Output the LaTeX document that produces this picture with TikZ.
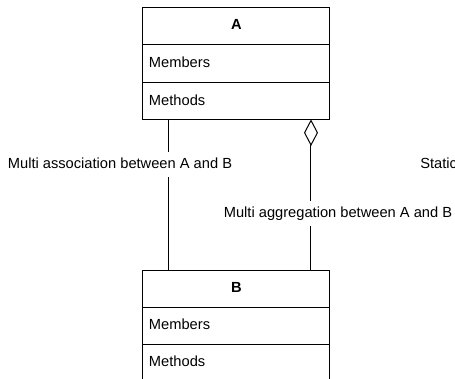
\documentclass[tikz,border=0pt]{standalone}
\usepackage{fontspec}
\setmainfont{Liberation Sans}
\usetikzlibrary{positioning,arrows.meta}

\tikzset{
  px/.style={x=0.75pt,y=-0.75pt},
  compart/.style={draw=black, line width=0.75pt, rectangle, inner xsep=4.5pt,
    inner ysep=0pt, outer sep=0pt, text width=131.25pt, font=\fontsize{11}{13}\selectfont,
    text height=8pt, text depth=2pt},
  classhead/.style={compart, align=center, font=\fontsize{11}{13}\selectfont\bfseries},
  classbody/.style={compart, align=left},
  relation/.style={draw=black, line width=0.75pt},
  rellabel/.style={fill=white, inner xsep=0pt, inner ysep=0pt, minimum height=18.75pt,
    font=\fontsize{11}{13}\selectfont, text height=8pt, text depth=2pt},
}

\begin{document}
\begin{tikzpicture}[px]
  \useasboundingbox (0,0) rectangle (455,379);
  \clip (0,0) rectangle (455,379);

  % class A
  \node[classhead, minimum height=28pt, anchor=north] (Ahead) at (236.5,7) {A};
  \node[classbody, minimum height=28.8pt, below=0pt of Ahead] (Amembers) {Members};
  \node[classbody, minimum height=27.5pt, below=0pt of Amembers] (Amethods) {Methods};

  % class B
  \node[classhead, minimum height=28pt, anchor=north] (Bhead) at (236.5,270) {B};
  \node[classbody, minimum height=27.75pt, below=0pt of Bhead] (Bmembers) {Members};
  \node[classbody, minimum height=27.75pt, below=0pt of Bmembers] (Bmethods) {Methods};

  % association and aggregation between A and B
  \draw[relation] ([xshift=19.1pt]Amethods.south west) -- ([xshift=19.1pt]Bhead.north west);
  \draw[relation, {Diamond[open, length=20pt, width=10.5pt, line width=0.75pt]}-]
    ([xshift=126pt]Amethods.south west) -- ([xshift=126pt]Bhead.north west);

  % labels
  \node[rellabel] (assoc) at (120,164.5) {Multi association between A and B};
  \node[rellabel] (aggr) at (338,213) {Multi aggregation between A and B};
  \node[rellabel, anchor=west] (static) at (420,164.5) {Static};
\end{tikzpicture}
\end{document}
